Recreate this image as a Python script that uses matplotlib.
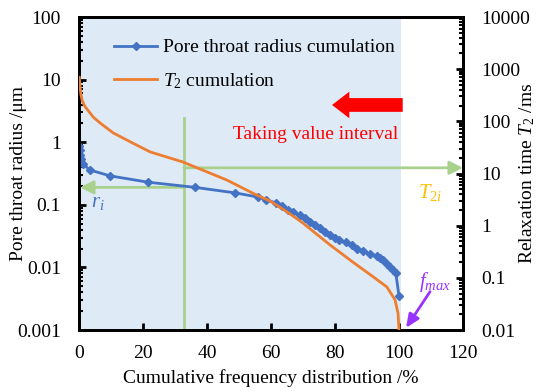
import matplotlib
matplotlib.use('Agg')
import matplotlib.pyplot as plt
from matplotlib.lines import Line2D
from matplotlib.patches import FancyArrow

plt.rcParams['font.family'] = ['Liberation Serif', 'DejaVu Serif']
plt.rcParams['mathtext.fontset'] = 'custom'
plt.rcParams['mathtext.rm'] = 'Liberation Serif'
plt.rcParams['mathtext.it'] = 'Liberation Serif:italic'

# pore throat radius cumulation (left axis, um)
radius_x = [0.1, 0.2, 0.4, 0.7, 1.2, 3.4, 9.7, 21.5, 36.3, 48.8, 56, 58.5, 61.6, 63.5,
            65.3, 67, 69, 70.5, 72.2, 73.8, 75.3, 77, 78.4, 80, 81.3, 83.5, 85.3, 87,
            88.8, 91, 93.1, 94, 95, 96.2, 97.2, 98.2, 99, 100]
radius_y = [0.87, 0.75, 0.63, 0.53, 0.45, 0.36, 0.29, 0.23, 0.19, 0.155, 0.133, 0.12,
            0.107, 0.095, 0.083, 0.076, 0.069, 0.061, 0.053, 0.048, 0.043, 0.037, 0.033,
            0.030, 0.0275, 0.025, 0.023, 0.020, 0.018, 0.0165, 0.015, 0.014, 0.013,
            0.0115, 0.0102, 0.009, 0.0081, 0.0035]

# T2 cumulation (right axis, ms)
t2_x = [0.1, 0.3, 0.6, 1.0, 1.8, 2.9, 4.5, 6.6, 10.7, 16.9, 22.2, 32.5, 46.2, 55,
        59.7, 65, 70, 78.4, 85.6, 91.9, 96.2, 98.75, 99.7, 100]
t2_y = [700, 480, 330, 250, 195, 160, 120, 93, 60, 38, 26, 16.6, 7.5, 4.0,
        2.97, 1.85, 1.12, 0.43, 0.20, 0.105, 0.067, 0.038, 0.021, 0.01]

cut_x = 32.8          # taking-value position
interval_end = 100.5  # shaded interval

left_ticks = [0.001, 0.01, 0.1, 1, 10, 100]
left_labels = ['0.001', '0.01', '0.1', '1', '10', '100']
right_ticks = [0.01, 0.1, 1, 10, 100, 1000, 10000]
right_labels = ['0.01', '0.1', '1', '10', '100', '1000', '10000']

BLUE = '#4472c4'
ORANGE = '#ed7d31'
GREEN = '#a9d18e'

fig = plt.figure(figsize=(5.38, 3.91), dpi=100)
ax = fig.add_axes([0.1468, 0.156, 0.7138, 0.8005])
ax2 = ax.twinx()

ax.axvspan(0, interval_end, color='#deeaf6', lw=0, zorder=0)

ax.plot(radius_x, radius_y, color=BLUE, lw=2, marker='D', ms=4, zorder=3)
ax2.plot(t2_x, t2_y, color=ORANGE, lw=2, zorder=3)

ax.set_yscale('log')
ax2.set_yscale('log')
ax.set_xlim(0, 120)
ax.set_ylim(0.001, 100)
ax2.set_ylim(0.01, 10000)
ax.set_xticks([0, 20, 40, 60, 80, 100, 120])
ax.set_yticks(left_ticks)
ax.set_yticklabels(left_labels)
ax2.set_yticks(right_ticks)
ax2.set_yticklabels(right_labels)

for a in (ax, ax2):
    for sp in a.spines.values():
        sp.set_linewidth(2)
    a.tick_params(which='major', direction='in', length=5, width=2, labelsize=14)
    a.tick_params(which='minor', direction='in', length=3, width=1.5)
ax.tick_params(axis='x', pad=11)
ax.tick_params(axis='y', pad=13)
ax2.tick_params(axis='y', pad=13)

ax.set_xlabel('Cumulative frequency distribution /%', fontsize=14, labelpad=5)
ax.set_ylabel('Pore throat radius /\u03bcm', fontsize=14)
ax2.set_ylabel('Relaxation time $T_2$ /ms', fontsize=14)
ax.yaxis.set_label_coords(-0.135, 0.5)
ax2.yaxis.set_label_coords(1.141, 0.5)

# green guide lines
ax.plot([cut_x, cut_x], [0.001, 2.44], color=GREEN, lw=2, zorder=2)
ax.annotate('', xy=(120, 0.39), xytext=(cut_x, 0.39),
            arrowprops=dict(arrowstyle='-|>,head_length=0.8,head_width=0.4',
                            color=GREEN, lw=2, shrinkA=0, shrinkB=0), zorder=2)
ax.annotate('', xy=(0.3, 0.19), xytext=(cut_x, 0.19),
            arrowprops=dict(arrowstyle='-|>,head_length=0.8,head_width=0.4',
                            color=GREEN, lw=2, shrinkA=0, shrinkB=0), zorder=2)

# red arrow and interval label
ax.add_patch(FancyArrow(0.843, 0.719, -0.184, 0, width=0.044, head_width=0.085,
                        head_length=0.045, length_includes_head=True,
                        color='#ff0000', lw=0, transform=ax.transAxes, zorder=4))
ax.text(74, 1.35, 'Taking value interval', color='#ff0000', fontsize=14,
        ha='center', va='center')

ax.text(5.9, 0.107, '$r_i$', color=BLUE, fontsize=15, ha='center', va='center')
ax.text(109.7, 0.16, '$T_{2i}$', color='#ffc000', fontsize=15, ha='center', va='center')
ax.text(111.3, 0.0059, '$f_{max}$', color='#9933ff', fontsize=15, ha='center', va='center')
ax.annotate('', xy=(102.2, 0.00108), xytext=(109.7, 0.0041),
            arrowprops=dict(arrowstyle='-|>,head_length=0.8,head_width=0.35',
                            color='#9933ff', lw=2, shrinkA=0, shrinkB=0))

handles = [Line2D([], [], color=BLUE, lw=2, marker='D', ms=4),
           Line2D([], [], color=ORANGE, lw=2)]
ax2.legend(handles, ['Pore throat radius cumulation', '$T_2$ cumulation'],
           loc='upper left', bbox_to_anchor=(0.072, 0.955), frameon=False,
           fontsize=14, handlelength=2.2, handletextpad=0.3, labelspacing=0.75,
           borderaxespad=0)

fig.savefig('out.png', dpi=100)
